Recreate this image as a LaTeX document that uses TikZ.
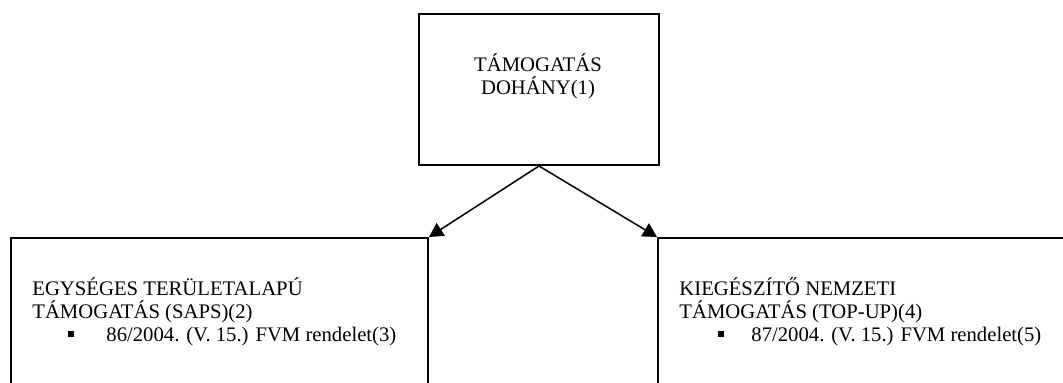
\documentclass[tikz,border=0pt]{standalone}
\usepackage{fontspec}
\setmainfont{Liberation Serif}
\usetikzlibrary{arrows.meta}

\begin{document}
\begin{tikzpicture}[x=0.5pt,y=-0.5pt,
    box/.style={draw, line width=1pt, inner sep=0pt},
    txt/.style={inner sep=0pt, font=\fontsize{10.35}{11.5}\selectfont},
    bul/.style={fill, inner sep=0pt, minimum size=2.8pt},
    arr/.style={line width=0.75pt, -{Triangle[length=7pt,width=7.5pt]}}]

    %cadre
    \useasboundingbox (0,0) rectangle (1063,383);
    \clip (0,0) rectangle (1063,383);

    %boites
    \node[box, minimum width=120pt, minimum height=75.5pt, anchor=north west] (top) at (418,13) {};
    \node[box, minimum width=208.5pt, minimum height=100pt, anchor=north west] (saps) at (10,237) {};
    \node[box, minimum width=250pt, minimum height=100pt, anchor=north west] (topup) at (657,237) {};

    %fleches
    \draw[arr] (top.south) -- (saps.north east);
    \draw[arr] (top.south) -- (topup.north west);

    %textes
    \node[txt, align=center, anchor=base] (ttop) at (538,95) {TÁMOGATÁS\\DOHÁNY(1)};

    \node[txt, align=left, anchor=base west] (tsaps) at (32,319) {EGYSÉGES TERÜLETALAPÚ\\TÁMOGATÁS (SAPS)(2)};
    \node[bul] (bsaps) at (71,334) {};
    \node[txt, anchor=base west] (rsaps) at (106,342) {86/2004. (V. 15.) FVM rendelet(3)};

    \node[txt, align=left, anchor=base west] (ttopup) at (679,319) {KIEGÉSZÍTŐ NEMZETI\\TÁMOGATÁS (TOP-UP)(4)};
    \node[bul] (btopup) at (721,334) {};
    \node[txt, anchor=base west] (rtopup) at (751,342) {87/2004. (V. 15.) FVM rendelet(5)};

\end{tikzpicture}
\end{document}
